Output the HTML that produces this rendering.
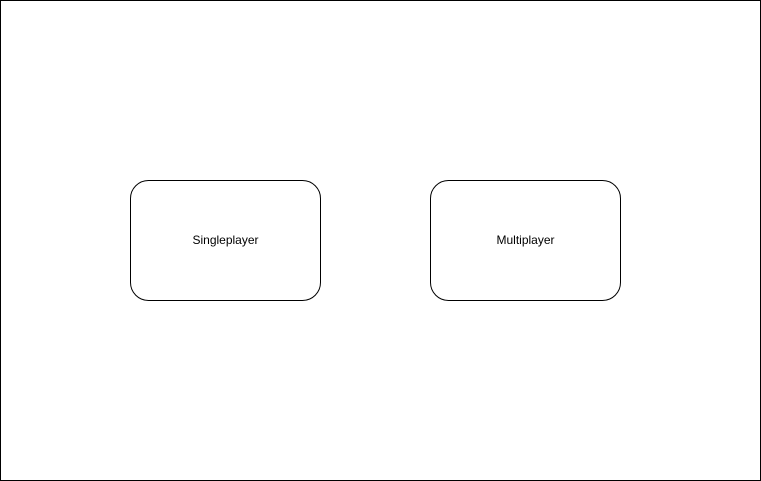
<!DOCTYPE html>
<html><head><style>
html,body{margin:0;padding:0;background:#fff;}
</style></head><body>
<svg width="761" height="481" xmlns="http://www.w3.org/2000/svg" style="display:block">
<rect x="0.5" y="0.5" width="760" height="480" fill="#fff" stroke="#000"/>
<rect x="130.5" y="180.5" width="190" height="120" rx="18" fill="#fff" stroke="#000"/>
<rect x="430.5" y="180.5" width="190" height="120" rx="18" fill="#fff" stroke="#000"/>
<text x="225.5" y="244" font-family="Liberation Sans, sans-serif" font-size="12" text-anchor="middle">Singleplayer</text>
<text x="525.5" y="244" font-family="Liberation Sans, sans-serif" font-size="12" text-anchor="middle">Multiplayer</text>
</svg>
</body></html>
